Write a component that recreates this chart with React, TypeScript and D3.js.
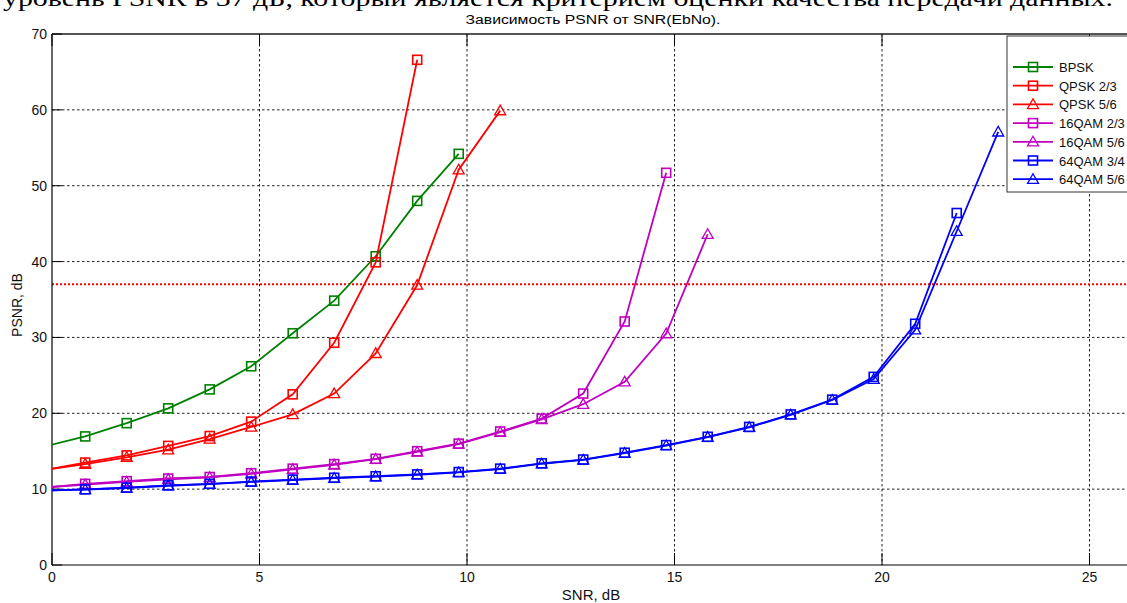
import React from "react";
import * as d3 from "d3";

const snr = [-0.2, 0.8, 1.8, 2.8, 3.8, 4.8, 5.8, 6.8, 7.8, 8.8, 9.8, 10.8, 11.8, 12.8, 13.8, 14.8, 15.8, 16.8, 17.8, 18.8, 19.8, 20.8, 21.8, 22.8];

const bpsk = [15.6, 16.95, 18.7, 20.65, 23.15, 26.2, 30.55, 34.85, 40.7, 48.0, 54.2];
const qpsk23 = [12.5, 13.5, 14.45, 15.7, 17.0, 18.9, 22.5, 29.3, 39.9, 66.6];
const qpsk56 = [12.5, 13.3, 14.2, 15.2, 16.6, 18.2, 19.85, 22.6, 27.9, 36.9, 52.1, 59.9];
const qam16_23 = [10.2, 10.7, 11.05, 11.4, 11.6, 12.1, 12.7, 13.3, 14.0, 15.0, 16.0, 17.6, 19.3, 22.6, 32.1, 51.7];
const qam16_56 = [10.2, 10.6, 10.95, 11.3, 11.55, 12.0, 12.6, 13.2, 13.95, 14.9, 15.95, 17.5, 19.2, 21.2, 24.15, 30.5, 43.6];
const qam64_34 = [9.8, 9.97, 10.2, 10.5, 10.7, 11.0, 11.25, 11.5, 11.7, 11.95, 12.25, 12.7, 13.4, 13.9, 14.8, 15.8, 16.9, 18.2, 19.85, 21.8, 24.8, 31.8, 46.4];
const qam64_56 = [9.8, 9.95, 10.15, 10.45, 10.65, 10.95, 11.2, 11.45, 11.65, 11.9, 12.2, 12.65, 13.35, 13.85, 14.75, 15.75, 16.85, 18.15, 19.8, 21.75, 24.5, 31.0, 44.0, 57.1];

const seriesNames = ["BPSK", "QPSK 2/3", "QPSK 5/6", "16QAM 2/3", "16QAM 5/6", "64QAM 3/4", "64QAM 5/6"];
const seriesValues = [bpsk, qpsk23, qpsk56, qam16_23, qam16_56, qam64_34, qam64_56];
const seriesColors = ["#008000", "#ff0000", "#ff0000", "#c000c0", "#c000c0", "#0000ff", "#0000ff"];
const seriesMarkers = ["square", "square", "triangle", "square", "triangle", "square", "triangle"];

const xTicks = [0, 5, 10, 15, 20, 25];
const yTicks = [0, 10, 20, 30, 40, 50, 60, 70];
const threshold = 37;

const titleText = "Зависимость PSNR от SNR(EbNo).";
const topText = "уровень PSNR в 37 дБ, который является критерием оценки качества передачи данных.";

const W = 1127;
const H = 603;
const left = 52;
const right = 1131;
const top = 34;
const bottom = 565;

function Marker({ type, cx, cy, color }: { type: string; cx: number; cy: number; color: string }) {
  if (type === "square") {
    return <rect x={cx - 4.5} y={cy - 4.5} width={9} height={9} fill="none" stroke={color} strokeWidth={1.6} />;
  }
  const s = 5.5;
  const pts = `${cx},${cy - s} ${cx + s},${cy + s * 0.75} ${cx - s},${cy + s * 0.75}`;
  return <polygon points={pts} fill="none" stroke={color} strokeWidth={1.3} />;
}

export default function App() {
  const x = d3.scaleLinear().domain([0, 26]).range([left, right]);
  const y = d3.scaleLinear().domain([0, 70]).range([bottom, top]);
  const line = d3
    .line<number>()
    .x((_, i) => x(snr[i]))
    .y((d) => y(d));

  const font = "'Liberation Sans', Arial, sans-serif";
  const legendX = 1007;
  const legendY0 = 67;
  const legendStep = 18.7;

  return (
    <svg width={W} height={H} style={{ position: "absolute", left: 0, top: 0, background: "#fff" }}>
      <defs>
        <clipPath id="plotClip">
          <rect x={left} y={top} width={right - left} height={bottom - top} />
        </clipPath>
      </defs>
      <rect x={0} y={0} width={W} height={H} fill="#fff" />
      <text
        x={3}
        y={6}
        fontFamily="'Liberation Serif', 'Times New Roman', serif"
        fontSize={24}
        textLength={1110}
        lengthAdjust="spacingAndGlyphs"
        fill="#000"
      >
        {topText}
      </text>
      <text
        x={593}
        y={24}
        textAnchor="middle"
        fontFamily={font}
        fontSize={12}
        textLength={255}
        lengthAdjust="spacingAndGlyphs"
        fill="#000"
      >
        {titleText}
      </text>

      {/* grid */}
      <g stroke="#222" strokeWidth={1} strokeDasharray="2.5,2.5">
        {xTicks.filter((t) => t > 0).map((t) => (
          <line key={"gx" + t} x1={x(t)} x2={x(t)} y1={top} y2={bottom} />
        ))}
        {yTicks.filter((t) => t > 0 && t < 70).map((t) => (
          <line key={"gy" + t} x1={left} x2={right} y1={y(t)} y2={y(t)} />
        ))}
      </g>

      {/* threshold */}
      <line
        x1={left}
        x2={right}
        y1={y(threshold)}
        y2={y(threshold)}
        stroke="#ff0000"
        strokeWidth={2}
        strokeDasharray="2,2"
      />

      {/* axes box */}
      <line x1={left} x2={right} y1={top} y2={top} stroke="#555" strokeWidth={2} />
      <line x1={left} x2={right} y1={bottom} y2={bottom} stroke="#000" strokeWidth={1.2} />
      <line x1={left} x2={left} y1={top} y2={bottom} stroke="#000" strokeWidth={1.2} />
      <g stroke="#000" strokeWidth={1}>
        {xTicks.map((t) => (
          <g key={"tx" + t}>
            <line x1={x(t)} x2={x(t)} y1={bottom} y2={bottom - 12} />
            <line x1={x(t)} x2={x(t)} y1={top} y2={top + 12} />
          </g>
        ))}
        {yTicks.map((t) => (
          <line key={"ty" + t} x1={left} x2={left + 10} y1={y(t)} y2={y(t)} />
        ))}
      </g>
      <g fontFamily={font} fontSize={14} fill="#111">
        {xTicks.map((t) => (
          <text key={"lx" + t} x={x(t)} y={582} textAnchor="middle">
            {t}
          </text>
        ))}
        {yTicks.map((t) => (
          <text key={"ly" + t} x={47} y={y(t) + 5} textAnchor="end">
            {t}
          </text>
        ))}
      </g>
      <text x={591} y={600} textAnchor="middle" fontFamily={font} fontSize={15} fill="#111">
        SNR, dB
      </text>
      <text
        transform={`translate(22,${305}) rotate(-90)`}
        textAnchor="middle"
        fontFamily={font}
        fontSize={14}
        fill="#111"
      >
        PSNR, dB
      </text>

      {/* series */}
      <g clipPath="url(#plotClip)">
        {seriesValues.map((vals, si) => (
          <g key={"s" + si}>
            <path d={line(vals) || ""} fill="none" stroke={seriesColors[si]} strokeWidth={1.8} />
            {vals.map((v, i) => (
              <Marker key={i} type={seriesMarkers[si]} cx={x(snr[i])} cy={y(v)} color={seriesColors[si]} />
            ))}
          </g>
        ))}
      </g>

      {/* legend */}
      <rect x={legendX} y={36} width={140} height={156} fill="#fff" stroke="#333" strokeWidth={1} />
      {seriesNames.map((n, i) => {
        const ly = legendY0 + i * legendStep;
        return (
          <g key={"lg" + i}>
            <line x1={1013} x2={1053} y1={ly} y2={ly} stroke={seriesColors[i]} strokeWidth={1.8} />
            <Marker type={seriesMarkers[i]} cx={1033} cy={ly} color={seriesColors[i]} />
            <text x={1059} y={ly + 5} fontFamily={font} fontSize={13} fill="#111">
              {n}
            </text>
          </g>
        );
      })}
    </svg>
  );
}
